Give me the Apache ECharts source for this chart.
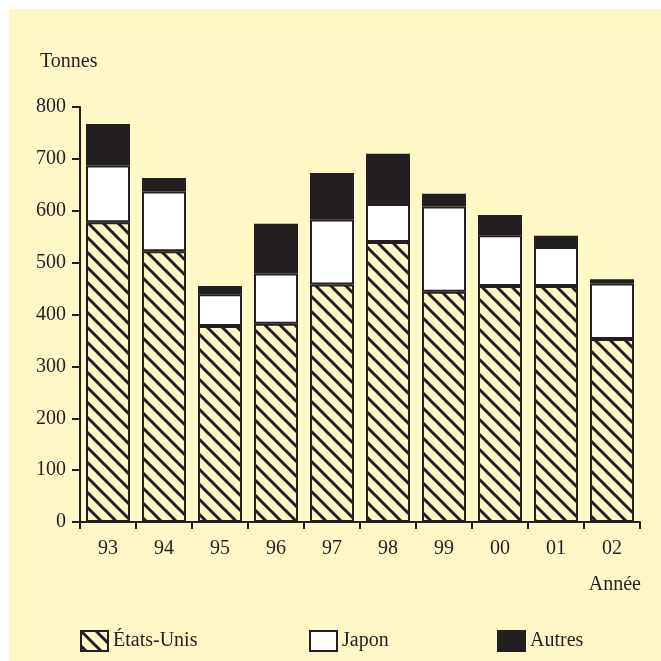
<!DOCTYPE html>
<html>
<head>
<meta charset="utf-8">
<script src="https://cdn.jsdelivr.net/npm/echarts@6/dist/echarts.min.js"></script>
<style>
html,body{margin:0;padding:0;background:#ffffff;}
#chart{width:661px;height:661px;}
</style>
</head>
<body>
<div id="chart"></div>
<script>
const categories = ['93','94','95','96','97','98','99','00','01','02'];
const etatsUnis = [578, 522, 378, 382, 458, 540, 444, 455, 455, 353];
const japon     = [109, 115,  61,  97, 125,  73, 164,  98,  75, 107];
const autres    = [ 80,  26,  16,  96,  90,  97,  25,  39,  22,   8];
const seriesNames = ['États-Unis', 'Japon', 'Autres'];
const yTicks = [0, 100, 200, 300, 400, 500, 600, 700, 800];

const BG = '#fef8c6';
const INK = '#231f20';
const FONT = '"Liberation Serif", "DejaVu Serif", serif';

// hatch pattern tile
const tile = document.createElement('canvas');
tile.width = 15; tile.height = 15;
const c = tile.getContext('2d');
c.fillStyle = BG; c.fillRect(0, 0, 15, 15);
c.strokeStyle = INK; c.lineWidth = 3;
c.beginPath();
c.moveTo(-15, -15); c.lineTo(30, 30);
c.moveTo(-15, 0); c.lineTo(15, 30);
c.moveTo(0, -15); c.lineTo(30, 15);
c.stroke();
const hatch = { image: tile, repeat: 'repeat' };

const chart = echarts.init(document.getElementById('chart'), null, { renderer: 'canvas' });

const legendBase = {
  top: 625, orient: 'horizontal', icon: 'rect', itemWidth: 27, itemHeight: 20,
  textStyle: { fontFamily: FONT, fontSize: 20, color: INK }, selectedMode: false
};

chart.setOption({
  animation: false,
  backgroundColor: '#ffffff',
  textStyle: { fontFamily: FONT },
  graphic: [
    { type: 'rect', z: -10, silent: true, shape: { x: 9, y: 9, width: 652, height: 652 }, style: { fill: BG } },
    { type: 'text', left: 40, top: 52, style: { text: 'Tonnes', font: '20px ' + FONT, fill: INK } },
    { type: 'text', right: 20, top: 575, style: { text: 'Année', font: '20px ' + FONT, fill: INK } }
  ],
  legend: [
    Object.assign({}, legendBase, { left: 75, data: [seriesNames[0]] }),
    Object.assign({}, legendBase, { left: 304, data: [seriesNames[1]] }),
    Object.assign({}, legendBase, { left: 492, data: [seriesNames[2]] })
  ],
  grid: { left: 80, right: 21, top: 107, bottom: 139 },
  xAxis: {
    type: 'category', data: categories, boundaryGap: true,
    axisLine: { lineStyle: { color: INK, width: 2 } },
    axisTick: { show: true, length: 7, lineStyle: { color: INK, width: 2 } },
    axisLabel: { fontFamily: FONT, fontSize: 20, color: INK, margin: 17 }
  },
  yAxis: {
    type: 'value', min: 0, max: 800, interval: 100,
    axisLine: { show: true, lineStyle: { color: INK, width: 2 } },
    axisTick: { show: true, length: 8, lineStyle: { color: INK, width: 2 } },
    axisLabel: { fontFamily: FONT, fontSize: 20, color: INK, margin: 14,
      formatter: v => yTicks.includes(v) ? String(v) : '' },
    splitLine: { show: false }
  },
  series: [
    { name: seriesNames[0], type: 'bar', stack: 'total', barWidth: 44, data: etatsUnis,
      itemStyle: { color: hatch, borderColor: INK, borderWidth: 2 } },
    { name: seriesNames[1], type: 'bar', stack: 'total', barWidth: 44, data: japon,
      itemStyle: { color: '#ffffff', borderColor: INK, borderWidth: 2 } },
    { name: seriesNames[2], type: 'bar', stack: 'total', barWidth: 44, data: autres,
      itemStyle: { color: INK, borderColor: INK, borderWidth: 2 } }
  ]
});
</script>
</body>
</html>
